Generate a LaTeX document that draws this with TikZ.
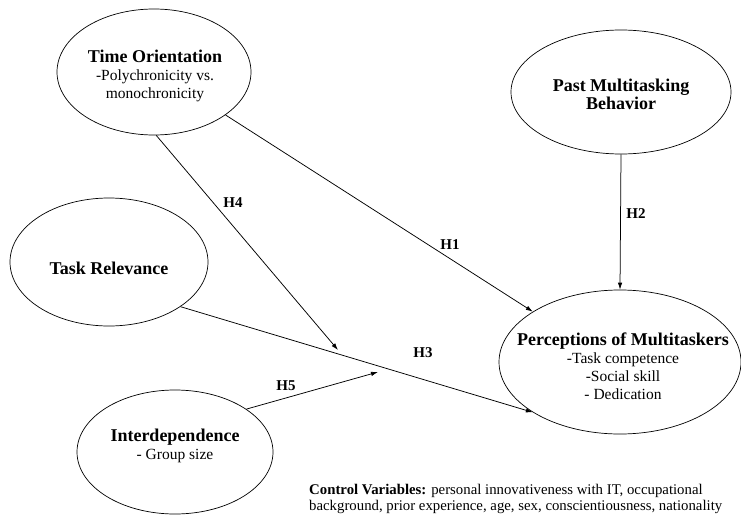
\documentclass[tikz,border=0pt]{standalone}
\usepackage{fontspec}
\setmainfont{Liberation Serif}
\usetikzlibrary{shapes.geometric,arrows.meta}
\newcommand{\hdtxt}[1]{{\fontsize{18}{21}\selectfont\bfseries #1}}
\begin{document}
\begin{tikzpicture}[x=1pt,y=-1pt,
  ell/.style={draw, ellipse, line width=0.7pt, inner sep=0pt},
  etext/.style={align=center, inner sep=0pt, font=\fontsize{15.5}{18}\selectfont},
  conn/.style={line width=0.75pt, -{Latex[length=7pt,width=4.5pt]}},
  hlab/.style={font=\fontsize{15}{17}\selectfont\bfseries, inner sep=0pt}]
\useasboundingbox (0,0) rectangle (741,524);

% ellipses
\node[ell, minimum width=194, minimum height=126] (TO) at (154,72) {};
\node[etext] (TOt) at (155,76) {\hdtxt{Time Orientation}\\-Polychronicity vs.\\monochronicity};

\node[ell, minimum width=220, minimum height=124] (PMB) at (621,92) {};
\node[etext] (PMBt) at (621,94) {\hdtxt{Past Multitasking}\\\hdtxt{Behavior}};

\node[ell, minimum width=198, minimum height=128] (TR) at (109,262) {};
\node[etext] (TRt) at (109,268) {\hdtxt{Task Relevance}};

\node[ell, minimum width=196, minimum height=124] (INT) at (175,452) {};
\node[etext] (INTt) at (175,446) {\hdtxt{Interdependence}\\- Group size};

\node[ell, minimum width=242, minimum height=144] (PERC) at (620,362) {};
\node[etext] (PERCt) at (623,366) {\hdtxt{Perceptions of Multitaskers}\\-Task competence\\-Social skill\\- Dedication};

% moderator arrow ends
\coordinate (h4end) at (338,350);
\coordinate (h5end) at (378,372);

% connectors
\draw[conn] (TO.-31) -- (PERC.150);
\draw[conn] (PMB.south) -- (PERC.north);
\draw[conn] (TR.-32) -- (PERC.-150);
\draw[conn] (TO.-88) -- (h4end);
\draw[conn] (INT.31) -- (h5end);

% labels
\node[hlab] (H1) at (450,245) {H1};
\node[hlab] (H2) at (636,214) {H2};
\node[hlab] (H3) at (423,353) {H3};
\node[hlab] (H4) at (233,203) {H4};
\node[hlab] (H5) at (286,386) {H5};

% control variables
\node[anchor=north west, align=left, inner sep=0pt, font=\fontsize{14.8}{16.5}\selectfont] (CV) at (309,484)
  {\textbf{Control Variables:} personal innovativeness with IT, occupational\\background, prior experience, age, sex, conscientiousness, nationality};
\end{tikzpicture}
\end{document}
